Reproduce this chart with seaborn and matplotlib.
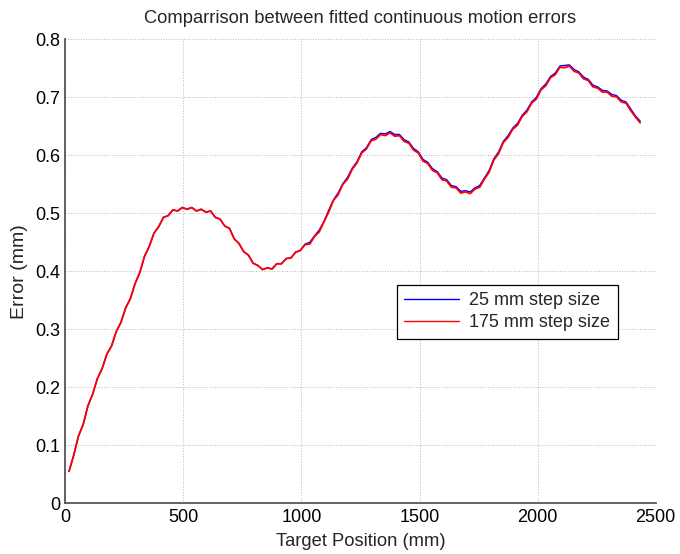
import numpy as np
import pandas as pd
import matplotlib
matplotlib.use("Agg")
import matplotlib.pyplot as plt
import seaborn as sns

# Target positions (mm), sampled every 20 mm
positions = np.arange(15, 2436, 20)

# 175 mm step size (red)
err_175 = [
    .055, .083, .116, .136, .168, .188, .215, .232, .257, .271,
    .296, .312, .337, .353, .379, .398, .426, .443, .466, .477,
    .493, .496, .506, .504, .510, .507, .510, .504, .507, .502,
    .504, .493, .490, .478, .474, .456, .448, .434, .428, .414,
    .410, .403, .406, .404, .413, .413, .422, .423, .433, .436,
    .446, .447, .460, .468, .485, .502, .522, .532, .550, .559,
    .576, .587, .604, .611, .625, .628, .636, .634, .639, .633,
    .634, .624, .621, .609, .604, .590, .586, .574, .570, .558,
    .556, .545, .544, .535, .537, .534, .542, .545, .559, .571,
    .592, .603, .622, .631, .645, .652, .667, .675, .690, .697,
    .713, .720, .734, .739, .752, .751, .754, .745, .742, .732,
    .729, .718, .716, .709, .709, .702, .701, .692, .690, .677,
    .666, .656,
]

# 25 mm step size (blue)
err_25 = [
    .055, .083, .116, .136, .168, .188, .215, .232, .257, .271,
    .296, .312, .337, .353, .379, .398, .426, .443, .466, .477,
    .493, .496, .506, .504, .510, .507, .510, .504, .507, .502,
    .504, .493, .490, .478, .474, .456, .448, .434, .428, .414,
    .410, .403, .406, .404, .413, .413, .422, .423, .433, .436,
    .447, .450, .461, .471, .486, .505, .523, .535, .551, .562,
    .578, .589, .606, .613, .627, .631, .638, .637, .641, .636,
    .636, .627, .623, .612, .606, .593, .588, .577, .572, .561,
    .558, .548, .546, .538, .539, .537, .544, .548, .561, .574,
    .594, .606, .624, .634, .647, .655, .669, .678, .692, .700,
    .715, .723, .736, .742, .754, .755, .756, .748, .744, .735,
    .731, .721, .718, .712, .711, .705, .703, .695, .692, .680,
    .668, .659,
]

series_labels = ["25 mm step size", "175 mm step size"]
x_ticks = [0, 500, 1000, 1500, 2000, 2500]
y_ticks = [0, 0.1, 0.2, 0.3, 0.4, 0.5, 0.6, 0.7, 0.8]

df = pd.DataFrame({
    "pos": np.concatenate([positions, positions]),
    "err": np.concatenate([err_25, err_175]),
    "series": [series_labels[0]] * len(positions) + [series_labels[1]] * len(positions),
})

sns.set_style("white")
plt.rcParams["font.family"] = ["Liberation Sans", "DejaVu Sans"]

fig = plt.figure(figsize=(6.8, 5.54), dpi=100)
ax = fig.add_axes([0.0963, 0.0915, 0.8677, 0.8375])

sns.lineplot(data=df, x="pos", y="err", hue="series",
             palette={series_labels[0]: "#0000ff", series_labels[1]: "#ff0000"},
             linewidth=1.0, ax=ax, legend=True, estimator=None, sort=False)
# red line slightly heavier so it covers the blue where they coincide
ax.lines[1].set_linewidth(1.3)

ax.set_xlim(0, 2500)
ax.set_ylim(0, 0.8)
ax.set_xticks(x_ticks)
ax.set_yticks(y_ticks)
ax.set_xticklabels([str(t) for t in x_ticks])
ax.set_yticklabels(["0"] + [f"{t:.1f}" for t in y_ticks[1:]])
ax.grid(True, linestyle=":", linewidth=0.7, color="#b8b8b8")
ax.set_axisbelow(True)

for side in ["top", "right"]:
    ax.spines[side].set_visible(False)
for side in ["left", "bottom"]:
    ax.spines[side].set_color("#555555")
    ax.spines[side].set_linewidth(1.3)

ax.tick_params(direction="in", length=5, width=1.0, color="#555555",
               labelsize=13, labelcolor="black", pad=4)

ax.set_xlabel("Target Position (mm)", fontsize=13.2, labelpad=5)
ax.set_ylabel("Error (mm)", fontsize=14, labelpad=5)
ax.set_title("Comparrison between fitted continuous motion errors", fontsize=13.2, pad=12)

leg = ax.legend(loc="center", bbox_to_anchor=(0.749, 0.413), fontsize=13,
                frameon=True, fancybox=False, edgecolor="black", framealpha=1,
                handlelength=3.0, borderpad=0.4, labelspacing=0.3, handletextpad=0.6)
leg.get_frame().set_linewidth(0.9)
for line in leg.get_lines():
    line.set_linewidth(1.0)

fig.savefig("out.png", dpi=100)
